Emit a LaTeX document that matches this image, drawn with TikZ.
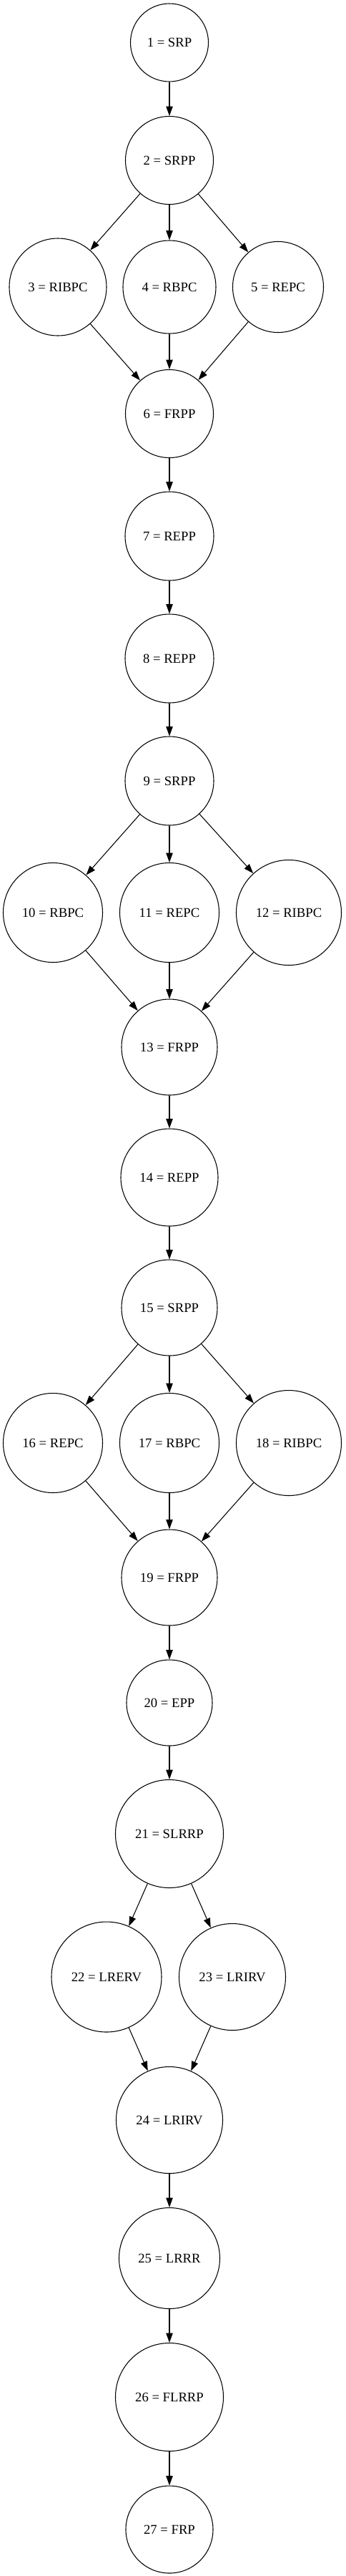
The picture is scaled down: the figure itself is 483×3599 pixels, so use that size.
\documentclass[tikz,border=0pt]{standalone}
\usepackage{fontspec}
\setmainfont{Liberation Serif}
\usetikzlibrary{arrows.meta}

\begin{document}
\begin{tikzpicture}[
        x=0.75pt, y=-0.75pt,
        every node/.style={font=\fontsize{14}{16}\selectfont},
        paso/.style={draw, circle, inner sep=0pt, minimum size=#1*0.75pt},
        >={Triangle[length=10pt, width=7pt]},
        line width=0.8pt
    ]
    \useasboundingbox (0,0) rectangle (483,3599);

    % Primer bloque
    \node[paso=109] (p1) at (237,59.5) {1 = SRP};
    \node[paso=123] (p2) at (237,224) {2 = SRPP};
    \node[paso=136] (p3) at (81,401) {3 = RIBPC};
    \node[paso=130] (p4) at (237,401) {4 = RBPC};
    \node[paso=127] (p5) at (389,401) {5 = REPC};
    \node[paso=123] (p6) at (237,578) {6 = FRPP};
    \node[paso=124] (p7) at (237,749) {7 = REPP};
    \node[paso=124] (p8) at (237,920) {8 = REPP};

    % Segundo bloque
    \node[paso=124] (p9) at (237,1091) {9 = SRPP};
    \node[paso=139] (p10) at (74,1275) {10 = RBPC};
    \node[paso=139] (p11) at (237,1275) {11 = REPC};
    \node[paso=147] (p12) at (404,1275) {12 = RIBPC};
    \node[paso=134] (p13) at (237,1463) {13 = FRPP};
    \node[paso=136] (p14) at (237,1645) {14 = REPP};

    % Tercer bloque
    \node[paso=134] (p15) at (237,1827) {15 = SRPP};
    \node[paso=139] (p16) at (74,2016) {16 = REPC};
    \node[paso=139] (p17) at (237,2016) {17 = RBPC};
    \node[paso=147] (p18) at (404,2016) {18 = RIBPC};
    \node[paso=134] (p19) at (237,2204) {19 = FRPP};
    \node[paso=120] (p20) at (237,2379) {20 = EPP};

    % Bloque final
    \node[paso=151] (p21) at (237,2562) {21 = SLRRP};
    \node[paso=154] (p22) at (149,2762) {22 = LRERV};
    \node[paso=149] (p23) at (325,2762) {23 = LRIRV};
    \node[paso=149] (p24) at (237,2962) {24 = LRIRV};
    \node[paso=141] (p25) at (237,3155) {25 = LRRR};
    \node[paso=151] (p26) at (237,3349) {26 = FLRRP};
    \node[paso=122] (p27) at (237,3534) {27 = FRP};

    % Aristas
    \draw[->] (p1) to (p2);
    \draw[->] (p2) to (p3);
    \draw[->] (p2) to (p4);
    \draw[->] (p2) to (p5);
    \draw[->] (p3) to (p6);
    \draw[->] (p4) to (p6);
    \draw[->] (p5) to (p6);
    \draw[->] (p6) to (p7);
    \draw[->] (p7) to (p8);
    \draw[->] (p8) to (p9);
    \draw[->] (p9) to (p10);
    \draw[->] (p9) to (p11);
    \draw[->] (p9) to (p12);
    \draw[->] (p10) to (p13);
    \draw[->] (p11) to (p13);
    \draw[->] (p12) to (p13);
    \draw[->] (p13) to (p14);
    \draw[->] (p14) to (p15);
    \draw[->] (p15) to (p16);
    \draw[->] (p15) to (p17);
    \draw[->] (p15) to (p18);
    \draw[->] (p16) to (p19);
    \draw[->] (p17) to (p19);
    \draw[->] (p18) to (p19);
    \draw[->] (p19) to (p20);
    \draw[->] (p20) to (p21);
    \draw[->] (p21) to (p22);
    \draw[->] (p21) to (p23);
    \draw[->] (p22) to (p24);
    \draw[->] (p23) to (p24);
    \draw[->] (p24) to (p25);
    \draw[->] (p25) to (p26);
    \draw[->] (p26) to (p27);
\end{tikzpicture}
\end{document}
